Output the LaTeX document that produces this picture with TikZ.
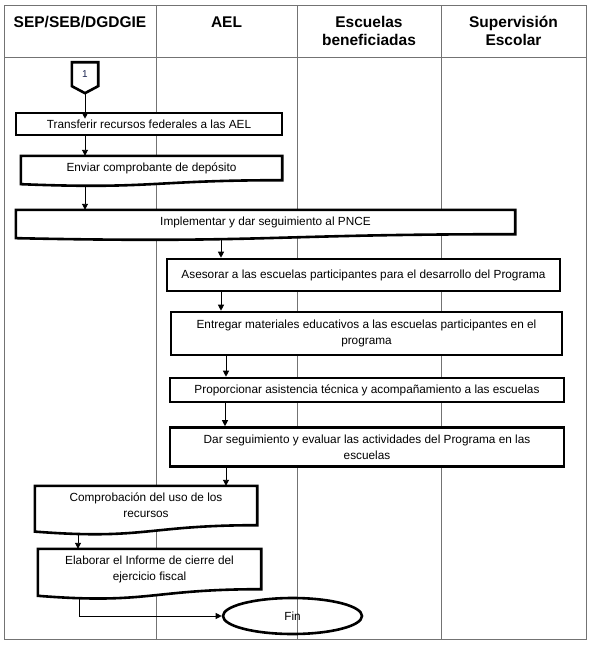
\documentclass[tikz,border=0pt]{standalone}
\usepackage{fontspec}
\setmainfont{Liberation Sans}
\usetikzlibrary{arrows.meta,shapes.geometric,calc}
\pgfdeclarelayer{tbl}
\pgfdeclarelayer{shp}
\pgfsetlayers{tbl,shp,main}
\newcommand\bodyfont{\fontsize{11.8}{16}\selectfont}
\newcommand\hdrfont{\fontsize{15.5}{18}\selectfont\bfseries}
\definecolor{onecol}{RGB}{25,35,80}
\newcommand\docoutline[2]{%
  \begin{pgfonlayer}{shp}
    \draw[boxline,fill=white] (#1.north west) -- (#1.north east) -- (#1.south east)
      .. controls (#1.south) and ([yshift=-1.54*#2]#1.south) .. ([yshift=-0.66*#2]#1.south west) -- cycle;
  \end{pgfonlayer}}
\tikzset{
  tblline/.style={draw=black!55, line width=0.9pt},
  boxline/.style={draw=black, line width=2.6pt, line join=miter},
  procbox/.style={boxline, fill=white, inner sep=0pt, font=\bodyfont, align=center},
  doctext/.style={inner sep=0pt, font=\bodyfont, align=center},
  arr/.style={draw=black, line width=0.9pt, -{Triangle[length=6pt,width=6pt]}},
  hdr/.style={font=\hdrfont, align=center, inner sep=0pt, anchor=north},
}
\begin{document}
\begin{tikzpicture}[x=1pt,y=-1pt]
\useasboundingbox (0,0) rectangle (590,646);
\begin{pgfonlayer}{tbl}
  \fill[white] (0,0) rectangle (590,646);
  \draw[tblline] (4,5) rectangle (586,639);
  \draw[tblline] (4,57) -- (586,57);
  \draw[tblline] (156,5) -- (156,639);
  \draw[tblline] (297,5) -- (297,639);
  \draw[tblline] (441,5) -- (441,639);
\end{pgfonlayer}

% headers
\node[hdr] (h1) at (80,14.4) {\strut SEP/SEB/DGDGIE};
\node[hdr] (h2) at (226.5,14.4) {\strut AEL};
\node[hdr] (h3) at (369,14.4) {\strut Escuelas\\\strut beneficiadas};
\node[hdr] (h4) at (513.5,14.4) {\strut Supervisión\\\strut Escolar};

% off-page connector
\node[inner sep=0pt, minimum width=26pt, minimum height=23.5pt, font=\fontsize{10}{12}\selectfont, text=onecol] (c1) at (85,74.2) {1};
\begin{pgfonlayer}{shp}
  \draw[boxline,fill=white] (c1.north west) -- (c1.north east) -- (c1.south east) -- ([yshift=-7pt]c1.south) -- (c1.south west) -- cycle;
\end{pgfonlayer}

% process boxes
\node[procbox, minimum width=266pt, minimum height=22pt] (transf) at (149,124) {Transferir recursos federales a las AEL};
\node[doctext, minimum width=261pt, minimum height=24pt] (enviar) at (151.5,168) {Enviar comprobante de depósito};
\docoutline{enviar}{6pt}
\node[doctext, minimum width=499pt, minimum height=24pt] (impl) at (265.5,222) {Implementar y dar seguimiento al PNCE};
\docoutline{impl}{6pt}
\node[procbox, minimum width=393pt, minimum height=32pt] (ases) at (363.5,275) {Asesorar a las escuelas participantes para el desarrollo del Programa};
\node[procbox, minimum width=391pt, minimum height=43pt] (entr) at (366.5,333.5) {Entregar materiales educativos a las escuelas participantes en el\\programa};
\node[procbox, minimum width=394pt, minimum height=24pt] (prop) at (367,390) {Proporcionar asistencia técnica y acompañamiento a las escuelas};
\node[procbox, minimum width=394pt, minimum height=39pt] (dar) at (367,447) {Dar seguimiento y evaluar las actividades del Programa en las\\escuelas};
\node[doctext, minimum width=222pt, minimum height=39pt] (comp) at (146,505.5) {Comprobación del uso de los\\recursos};
\docoutline{comp}{9.7pt}
\node[doctext, minimum width=223pt, minimum height=40pt] (elab) at (149.5,569) {Elaborar el Informe de cierre del\\ejercicio fiscal};
\docoutline{elab}{10pt}
\node[boxline, ellipse, minimum width=139pt, minimum height=36pt, inner sep=0pt, font=\bodyfont] (fin) at (292.5,616) {Fin};

% connectors
\draw[arr] ([yshift=-7pt]c1.south) -- ([yshift=-7pt]c1.south |- transf.north);
\draw[arr] ([xshift=-64pt]transf.south) -- ([xshift=-64pt]transf.south |- enviar.north);
\draw[arr] ([xshift=-66.5pt,yshift=-6pt]enviar.south) -- ([xshift=-66.5pt]enviar.south |- impl.north);
\draw[arr] ([xshift=-44.5pt,yshift=-6pt]impl.south) -- ([xshift=-44.5pt]impl.south |- ases.north);
\draw[arr] ([xshift=-142.5pt]ases.south) -- ([xshift=-142.5pt]ases.south |- entr.north);
\draw[arr] ([xshift=-140.5pt]entr.south) -- ([xshift=-140.5pt]entr.south |- prop.north);
\draw[arr] ([xshift=-142pt]prop.south) -- ([xshift=-142pt]prop.south |- dar.north);
\draw[arr] ([xshift=-141pt]dar.south) -- ([xshift=-141pt]dar.south |- comp.north);
\draw[arr] ([xshift=-68pt,yshift=-9.7pt]comp.south) -- ([xshift=-68pt]comp.south |- elab.north);
\draw[arr] ([xshift=-70.5pt,yshift=-10pt]elab.south) |- (fin.west);
\end{tikzpicture}
\end{document}
